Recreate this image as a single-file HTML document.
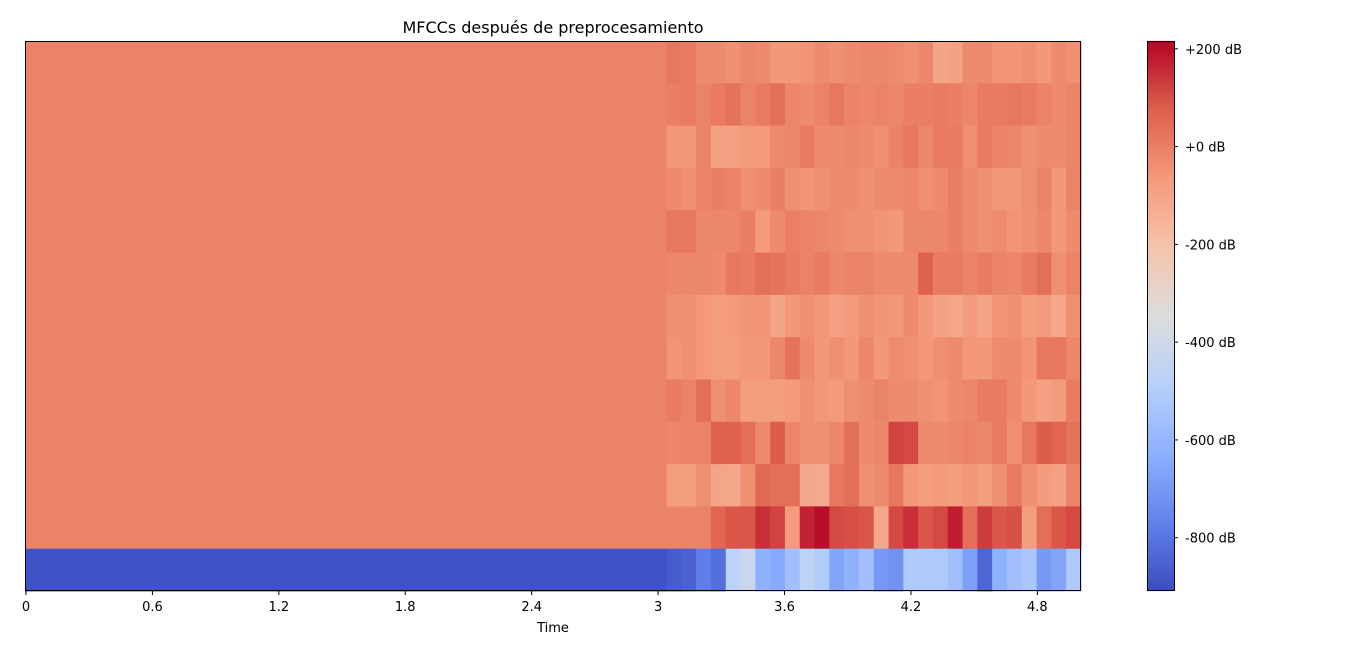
<!DOCTYPE html>
<html><head><meta charset="utf-8"><style>
body{margin:0;background:#fff;font-family:"Liberation Sans","DejaVu Sans",sans-serif;}
svg text{font-family:"DejaVu Sans","Liberation Sans",sans-serif;}
</style></head><body>
<svg id="chart" width="1366" height="655" xmlns="http://www.w3.org/2000/svg">
<text x="553" y="33" font-size="16" text-anchor="middle">MFCCs después de preprocesamiento</text>
<g id="cells"></g>
<rect x="25.5" y="41.5" width="1055" height="549" fill="none" stroke="#000" stroke-width="1"/>
<g id="xticks"></g>
<text x="553" y="632" font-size="13" text-anchor="middle">Time</text>
<g id="cbar"></g>
</svg>
<script>
const xTickLabels = ["0","0.6","1.2","1.8","2.4","3","3.6","4.2","4.8"];
const xTickValues = [0,0.6,1.2,1.8,2.4,3.0,3.6,4.2,4.8];
const cbTickValues = [200,0,-200,-400,-600,-800];
const cbTickLabels = ["+200 dB","+0 dB","-200 dB","-400 dB","-600 dB","-800 dB"];
const constValues = [-10,-10,-10,-10,-10,-10,-10,-10,-10,-10,-10,-10,-890];
const row0 = [20,10,-30,-30,-40,-20,-30,-60,-60,-50,-30,-40,-30,-20,-20,-30,-40,-20,-100,-90,-30,-30,-50,-50,-40,-60,-30,-40];
const row1 = [0,10,-10,10,30,-10,10,40,-20,-30,-10,20,-10,-20,-10,-20,0,0,10,0,-20,10,10,20,10,-10,-30,-10];
const row2 = [-60,-60,-10,-90,-90,-70,-70,-30,-20,10,-30,-30,-20,-30,-40,-10,20,-20,10,10,-40,10,-10,-20,-40,-30,-30,-10];
const row3 = [-30,-40,-10,0,-10,-40,-30,0,-40,-50,-40,-30,-30,-40,-30,-30,-20,-40,-30,0,-30,-40,-60,-60,-40,-10,-60,-10];
const row4 = [20,20,-20,-20,-20,0,-70,-30,0,-10,-20,-30,-40,-40,-50,-60,-20,-20,-20,0,-30,-40,-30,-50,-40,-20,-60,-30];
const row5 = [-20,-20,-20,-30,20,10,40,30,10,-10,10,-20,-10,-10,-30,-30,-30,70,10,10,-10,10,-10,-20,10,40,-40,-10];
const row6 = [-40,-40,-60,-80,-70,-50,-50,-100,-60,-40,-60,-90,-70,-40,-50,-60,-30,-60,-90,-110,-70,-100,-50,-40,-80,-70,-110,-40];
const row7 = [-50,-40,-60,-80,-80,-60,-60,-20,30,-30,-60,-40,-60,-20,-60,-30,-40,-60,-40,-30,-60,-60,-30,-30,-50,20,20,-20];
const row8 = [10,-10,40,-40,-20,-80,-80,-80,-70,-40,-60,-70,-40,-30,-10,-30,-30,-40,-50,-30,-20,10,10,-30,-60,-90,-70,10];
const row9 = [-20,-10,-10,70,70,40,-30,80,-20,-40,-40,-20,40,-30,-20,120,110,-30,-30,-20,-10,-20,10,-40,20,80,60,30];
const row10 = [-80,-80,-40,-100,-110,-40,50,40,40,-110,-120,20,40,-40,-30,20,-60,-80,-70,-80,-60,-80,-40,10,-40,-70,-90,-10];
const row11 = [-10,-10,-10,60,90,90,150,120,-70,170,200,110,100,90,-110,110,150,90,110,180,40,130,90,100,-80,40,90,110];
const row12 = [-870,-850,-780,-820,-470,-420,-620,-650,-560,-460,-510,-660,-620,-560,-700,-720,-520,-520,-520,-560,-680,-840,-620,-560,-530,-700,-660,-520];
const rows = [row0,row1,row2,row3,row4,row5,row6,row7,row8,row9,row10,row11,row12];
const tStart = 3.04, tEnd = 5.007, vmin = -909, vmax = 216;

const X0=26, PX=210.7, Y0=41, Y1=591;
const xs = t => X0 + t*PX;
const rowH = (Y1-Y0)/rows.length;
const ys = i => Y0 + i*rowH;
const stops=[[59,76,192],[98,130,234],[141,176,254],[184,208,249],[221,221,221],[245,196,173],[244,154,123],[222,96,77],[180,4,38]];
function cmap(v){let f=(v-vmin)/(vmax-vmin);f=Math.max(0,Math.min(1,f))*8;const i=Math.min(7,Math.floor(f)),r=f-i;
 const a=stops[i],b=stops[i+1];return `rgb(${a.map((c,k)=>Math.round(c+(b[k]-c)*r)).join(',')})`;}
const NS="http://www.w3.org/2000/svg";
function el(tag,attrs,parent){const e=document.createElementNS(NS,tag);for(const k in attrs)e.setAttribute(k,attrs[k]);parent.appendChild(e);return e;}
const cells=document.getElementById('cells');
rows.forEach((row,i)=>{
 const c=el('rect',{x:xs(0)-1,y:ys(i),width:xs(tStart)-xs(0)+1.5,height:rowH+0.5,fill:cmap(constValues[i])},cells);
 
 
 const dt=(tEnd-tStart)/row.length;
 row.forEach((v,j)=>{
  const r=el('rect',{x:xs(tStart+j*dt),y:ys(i),width:xs(dt)-xs(0)+0.6,height:rowH+0.5,fill:cmap(v)},cells);
  
  
 });
});
const xt=document.getElementById('xticks');
xTickValues.forEach((t,i)=>{
 const x=xs(t);
 const l=el('line',{x1:x,x2:x,y1:591,y2:595,stroke:'#000'},xt);
 
 
 const tx=el('text',{x:x,y:611,'font-size':13,'text-anchor':'middle'},xt);tx.textContent=xTickLabels[i];
 
 
});
const cb=document.getElementById('cbar');
const CBX=1147,CBW=27;
const cy=v=>Y1-(v-vmin)/(vmax-vmin)*(Y1-Y0);
for(let k=0;k<275;k++){const v=vmin+(k+0.5)*(vmax-vmin)/275;
 const r=el('rect',{x:CBX,y:cy(v)-1.1,width:CBW,height:2.2,fill:cmap(v)},cb);
 
 }
const fr=el('rect',{x:CBX+0.5,y:Y0+0.5,width:CBW,height:Y1-Y0-1,fill:'none',stroke:'#000'},cb);


cbTickValues.forEach((v,i)=>{const y=cy(v);
 const l=el('line',{x1:CBX+CBW,x2:CBX+CBW+4,y1:y,y2:y,stroke:'#000'},cb);
 
 
 const t=el('text',{x:CBX+CBW+11,y:y+5,'font-size':13},cb);t.textContent=cbTickLabels[i];
 
 });
</script>
</body></html>
